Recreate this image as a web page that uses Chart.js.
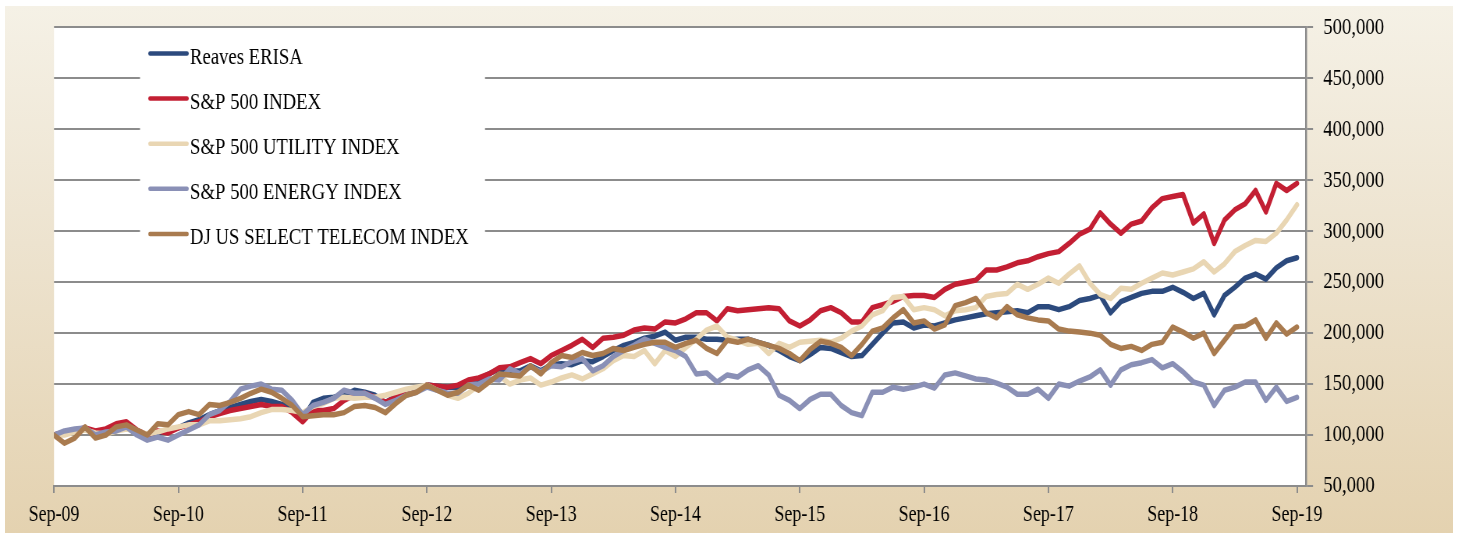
<!DOCTYPE html>
<html>
<head>
<meta charset="utf-8">
<script src="https://cdn.jsdelivr.net/npm/chart.js@4.4.1/dist/chart.umd.min.js"></script>
<style>
html, body { margin: 0; padding: 0; background: #ffffff; overflow: hidden; }
#bg { position: absolute; left: 5px; top: 6px; width: 1448px; height: 527px;
      background: linear-gradient(180deg, #f5f1e6 0%, #ede3cf 45%, #e4d2b0 100%); }
#chart { position: absolute; left: 0; top: 0; }
</style>
</head>
<body>
<div id="bg"></div>
<!-- the original picture is squeezed sideways, so draw wide and shrink with css -->
<canvas id="chart" width="1869" height="533" style="width:1458px;height:533px"></canvas>
<script>
var K = 1458 / 1869;

var yearLabels = ['Sep-09', 'Sep-10', 'Sep-11', 'Sep-12', 'Sep-13', 'Sep-14',
	'Sep-15', 'Sep-16', 'Sep-17', 'Sep-18', 'Sep-19'];
var yTicks = [50000, 100000, 150000, 200000, 250000, 300000, 350000, 400000, 450000, 500000];

var seriesNames = ['Reaves ERISA', 'S&P 500 INDEX', 'S&P 500 UTILITY INDEX',
	'S&P 500 ENERGY INDEX', 'DJ US SELECT TELECOM INDEX'];
var seriesColors = ['#2c4a7d', '#c31f33', '#e9d6b3', '#8a90b6', '#a97b4f'];

// monthly values, Sep-09 .. Sep-19
var reaves = [100000,102000,104000,107000,101000,104000,106000,109000,104000,97000,102000,104000,107000,112000,115000,120000,124000,127000,130000,133000,135000,133000,130000,127000,116000,
	132000,136000,137000,139000,144000,142000,139000,132000,138000,142000,144000,149000,148000,147000,147000,152000,155000,160000,165000,162000,163000,168000,163000,169000,
	170000,169000,173000,172000,177000,183000,188000,191000,195000,197000,201000,193000,196000,196000,194000,194000,193000,194000,194000,191000,188000,183000,177000,173000,
	179000,186000,185000,181000,177000,178000,189000,200000,210000,211000,205000,208000,207000,210000,213000,215000,217000,219000,220000,221000,222000,220000,226000,226000,
	223000,226000,232000,234000,237000,220000,231000,235000,239000,241000,241000,245000,240000,234000,239000,218000,237000,245000,254000,258000,253000,264000,271000,274000];
var sp500 = [100000,103000,105000,107000,104000,106000,111000,113000,105000,100000,104000,102000,107000,110000,113000,118000,121000,124000,126000,128000,130000,128000,128000,122000,113000,
	124000,124000,126000,134000,139000,141000,137000,132000,137000,141000,144000,149000,148000,147000,149000,154000,156000,160000,166000,167000,171000,175000,170000,178000,
	183000,188000,194000,186000,195000,196000,198000,203000,205000,204000,211000,210000,214000,220000,220000,212000,224000,222000,223000,224000,225000,224000,212000,207000,
	213000,222000,225000,220000,211000,211000,225000,228000,231000,236000,237000,237000,235000,243000,248000,250000,252000,262000,262000,265000,269000,271000,275000,278000,
	280000,288000,297000,302000,318000,307000,298000,307000,310000,323000,332000,334000,336000,308000,317000,288000,311000,321000,327000,340000,319000,347000,340000,347000];
var utility = [100000,100000,103000,105000,102000,101000,104000,106000,103000,101000,103000,106000,108000,110000,110000,114000,114000,115000,116000,118000,122000,125000,125000,124000,122000,
	128000,131000,136000,137000,136000,137000,137000,139000,142000,145000,147000,149000,144000,139000,136000,141000,149000,152000,158000,150000,154000,156000,149000,152000,
	156000,159000,155000,160000,165000,173000,178000,177000,183000,170000,183000,177000,186000,194000,203000,207000,196000,193000,189000,190000,180000,190000,186000,191000,
	192000,193000,191000,195000,202000,207000,218000,222000,235000,236000,223000,225000,223000,217000,222000,223000,225000,236000,238000,239000,248000,243000,248000,254000,
	249000,258000,266000,249000,238000,234000,244000,243000,249000,254000,259000,257000,260000,263000,270000,260000,268000,280000,286000,291000,290000,298000,311000,326000];
var energy = [100000,104000,106000,107000,100000,103000,104000,108000,100000,95000,98000,95000,100000,105000,110000,120000,124000,133000,145000,148000,150000,145000,144000,134000,120000,
	129000,132000,136000,144000,141000,141000,136000,130000,134000,139000,142000,147000,144000,141000,141000,149000,150000,155000,154000,165000,160000,167000,162000,168000,
	167000,172000,175000,163000,168000,177000,183000,188000,194000,190000,186000,183000,177000,160000,161000,152000,159000,157000,164000,168000,159000,139000,134000,126000,
	135000,140000,140000,129000,122000,119000,142000,142000,147000,145000,147000,150000,146000,159000,161000,158000,155000,154000,151000,147000,140000,140000,145000,136000,
	150000,148000,153000,157000,164000,149000,164000,169000,171000,174000,166000,170000,162000,152000,149000,129000,144000,147000,152000,152000,134000,147000,133000,137000];
var telecom = [100000,92000,97000,108000,97000,100000,108000,110000,105000,100000,111000,110000,120000,123000,120000,130000,129000,132000,136000,141000,145000,142000,136000,129000,118000,
	119000,120000,120000,122000,128000,129000,127000,122000,131000,139000,142000,149000,144000,139000,142000,149000,144000,152000,160000,159000,158000,168000,160000,171000,
	178000,176000,181000,178000,180000,185000,183000,186000,189000,191000,191000,186000,190000,193000,185000,180000,193000,191000,194000,191000,188000,185000,180000,173000,
	184000,192000,190000,186000,178000,189000,202000,205000,215000,223000,210000,212000,204000,208000,227000,230000,234000,220000,215000,226000,218000,215000,213000,212000,
	204000,202000,201000,200000,198000,189000,185000,187000,183000,189000,191000,206000,201000,195000,200000,180000,193000,206000,207000,213000,195000,210000,199000,206000];

var allSeries = [reaves, sp500, utility, energy, telecom];

function toPoints(arr) {
	return arr.map(function(v, i) { return {x: i, y: v}; });
}

var datasets = allSeries.map(function(arr, i) {
	return {
		label: seriesNames[i],
		data: toPoints(arr),
		borderColor: seriesColors[i],
		backgroundColor: seriesColors[i],
		borderWidth: 5.5,
		pointRadius: 0,
		tension: 0,
		borderJoinStyle: 'round',
		borderCapStyle: 'round',
		order: allSeries.length - i   // telecom on top, like the excel original
	};
});

var plotWhite = {
	id: 'plotWhite',
	beforeDraw: function(chart) {
		var a = chart.chartArea;
		var ctx = chart.ctx;
		ctx.save();
		ctx.fillStyle = '#ffffff';
		ctx.fillRect(a.left, a.top, a.right - a.left, a.bottom - a.top);
		ctx.restore();
	}
};

// legend sits inside the plot on a white patch
var boxLegend = {
	id: 'boxLegend',
	afterDatasetsDraw: function(chart) {
		var ctx = chart.ctx;
		ctx.save();
		ctx.fillStyle = '#ffffff';
		ctx.fillRect(140 / K, 30, 345 / K, 238);
		ctx.font = '24px "Liberation Serif", "Times New Roman", serif';
		ctx.textBaseline = 'alphabetic';
		ctx.textAlign = 'left';
		ctx.lineCap = 'round';
		chart.data.datasets.forEach(function(ds, i) {
			var y = 64 + i * 45.1;
			ctx.strokeStyle = ds.borderColor;
			ctx.lineWidth = 4.5;
			ctx.beginPath();
			ctx.moveTo(150 / K, y - 10.5);
			ctx.lineTo(187 / K, y - 10.5);
			ctx.stroke();
			ctx.fillStyle = '#000000';
			ctx.fillText(ds.label, 190 / K, y);
		});
		ctx.restore();
	}
};

new Chart(document.getElementById('chart'), {
	type: 'line',
	data: { datasets: datasets },
	options: {
		responsive: false,
		devicePixelRatio: 1,
		animation: false,
		layout: { padding: { left: 54 / K, top: 24, right: 0, bottom: 0 } },
		plugins: {
			legend: { display: false },
			tooltip: { enabled: false }
		},
		scales: {
			x: {
				type: 'linear',
				min: 0,
				max: 120.87,
				afterBuildTicks: function(scale) {
					scale.ticks = yearLabels.map(function(l, i) { return {value: i * 12}; });
				},
				afterFit: function(scale) { scale.height = 533 - 486; },
				ticks: {
					color: '#000000',
					font: { family: '"Liberation Serif", "Times New Roman", serif', size: 23 },
					padding: 8,
					maxRotation: 0,
					autoSkip: false,
					callback: function(value) { return yearLabels[Math.round(value / 12)]; }
				},
				grid: { drawOnChartArea: false, drawTicks: true, tickLength: 7, color: '#8c8c8c', lineWidth: 2 },
				border: { display: true, color: '#8c8c8c', width: 2 }
			},
			y: {
				position: 'right',
				min: 50000,
				max: 500000,
				afterBuildTicks: function(scale) {
					scale.ticks = yTicks.map(function(v) { return {value: v}; });
				},
				afterFit: function(scale) { scale.width = 1869 - 1306 / K; },
				ticks: {
					color: '#000000',
					font: { family: '"Liberation Serif", "Times New Roman", serif', size: 24 },
					padding: 13,
					callback: function(value) { return value.toLocaleString('en-US'); }
				},
				grid: { drawTicks: true, tickLength: 9, color: '#8c8c8c', lineWidth: 2 },
				border: { display: true, color: '#8c8c8c', width: 2.5 }
			}
		}
	},
	plugins: [plotWhite, boxLegend]
});
</script>
</body>
</html>
